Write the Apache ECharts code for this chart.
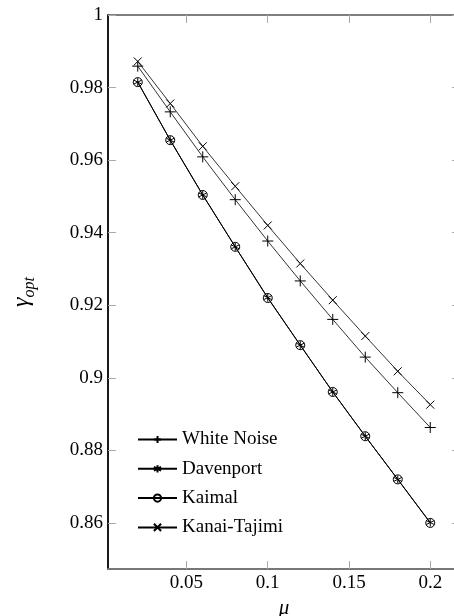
<!DOCTYPE html>
<html>
<head>
<meta charset="utf-8">
<script src="https://cdn.jsdelivr.net/npm/echarts@6/dist/echarts.min.js"></script>
<style>html,body{margin:0;padding:0;background:#fff}#c{width:454px;height:616px}</style>
</head>
<body>
<div id="c"></div>
<script>
const mu = [0.02, 0.04, 0.06, 0.08, 0.10, 0.12, 0.14, 0.16, 0.18, 0.20];
const whiteNoise = [0.9859, 0.9733, 0.9609, 0.9491, 0.9377, 0.9267, 0.9161, 0.9057, 0.8959, 0.8863];
const davenport = [0.9815, 0.9655, 0.9504, 0.9361, 0.9221, 0.9090, 0.8961, 0.8839, 0.8720, 0.8601];
const kaimal = [0.9815, 0.9655, 0.9504, 0.9361, 0.9220, 0.9090, 0.8961, 0.8839, 0.8720, 0.8600];
const kanaiTajimi = [0.9872, 0.9756, 0.9638, 0.9528, 0.9420, 0.9315, 0.9214, 0.9115, 0.9018, 0.8926];
const xTicks = [0.05, 0.1, 0.15, 0.2];
const yTicks = [0.86, 0.88, 0.90, 0.92, 0.94, 0.96, 0.98, 1.0];
const seriesNames = ['White Noise', 'Davenport', 'Kaimal', 'Kanai-Tajimi'];

const FONT = '"Liberation Serif", "DejaVu Serif", serif';
const pair = (ys) => mu.map((x, i) => [x, ys[i]]);
const fmt = (v) => String(+(+v).toFixed(2));

const SYM_PLUS = 'path://M5,0L5,10M0,5L10,5';
const SYM_TIMES = 'path://M0,0L10,10M10,0L0,10';
const SYM_STAR = 'path://M5,0L5,10M0.67,2.5L9.33,7.5M0.67,7.5L9.33,2.5';

function mk(name, data, symbol, size, lw) {
  return {
    name, type: 'line', data: pair(data), symbol, symbolSize: size,
    showAllSymbol: true, animation: false,
    lineStyle: { color: '#000', width: lw },
    itemStyle: { color: symbol === 'circle' ? 'rgba(0,0,0,0)' : '#000', borderColor: '#000', borderWidth: 1 },
    emphasis: { disabled: true }
  };
}

const chart = echarts.init(document.getElementById('c'), null, { renderer: 'canvas' });
chart.setOption({
  animation: false,
  backgroundColor: '#fff',
  textStyle: { fontFamily: FONT },
  grid: { left: 108, right: -6, top: 15, bottom: 47, show: true, borderColor: '#000', borderWidth: 1.2, backgroundColor: 'transparent', outerBoundsMode: 'none', containLabel: false },
  legend: {
    orient: 'vertical', left: 137, top: 430, padding: 0, itemWidth: 39, itemHeight: 9, itemGap: 10.3,
    data: seriesNames,
    textStyle: { fontFamily: FONT, fontSize: 19, color: '#000' },
    inactiveColor: '#000'
  },
  xAxis: [{
    type: 'value', min: 0.0017, max: 0.2183,
    name: 'μ', nameLocation: 'middle', nameGap: 26,
    nameTextStyle: { fontFamily: FONT, fontStyle: 'italic', fontSize: 21, color: '#000' },
    axisLine: { show: true, lineStyle: { color: '#777', width: 2 } },
    axisTick: { show: true, inside: true, length: 8, customValues: xTicks, lineStyle: { color: '#aaa', width: 1 } },
    axisLabel: { customValues: xTicks, formatter: fmt, fontFamily: FONT, fontSize: 19, color: '#000', margin: 5 },
    splitLine: { show: false }
  }, {
    type: 'value', position: 'top', min: 0.0017, max: 0.2183,
    axisLine: { show: false },
    axisTick: { show: true, inside: true, length: 8, customValues: xTicks, lineStyle: { color: '#aaa', width: 1 } },
    axisLabel: { show: false }, splitLine: { show: false }
  }],
  yAxis: [{
    type: 'value', min: 0.8473, max: 1.0,
    name: '{g|γ}{s|opt}', nameLocation: 'middle', nameGap: 74, nameRotate: 90,
    nameTextStyle: {
      color: '#000',
      rich: {
        g: { fontFamily: FONT, fontStyle: 'italic', fontSize: 24, color: '#000', verticalAlign: 'bottom' },
        s: { fontFamily: FONT, fontStyle: 'italic', fontSize: 16, color: '#000', verticalAlign: 'bottom', padding: [0, 0, -4, 0] }
      }
    },
    axisLine: { show: true, lineStyle: { color: '#000', width: 1.5 } },
    axisTick: { show: true, inside: true, length: 8, customValues: yTicks, lineStyle: { color: '#aaa', width: 1 } },
    axisLabel: { customValues: yTicks, formatter: fmt, fontFamily: FONT, fontSize: 19, color: '#000', margin: 5 },
    splitLine: { show: false }
  }, {
    type: 'value', position: 'right', min: 0.8473, max: 1.0,
    axisLine: { show: false },
    axisTick: { show: true, inside: true, length: 8, customValues: yTicks, lineStyle: { color: '#aaa', width: 1 } },
    axisLabel: { show: false }, splitLine: { show: false }
  }],
  series: [
    mk('White Noise', whiteNoise, SYM_PLUS, 11, 0.8),
    mk('Davenport', davenport, SYM_STAR, 8, 1),
    mk('Kaimal', kaimal, 'circle', 9, 1),
    mk('Kanai-Tajimi', kanaiTajimi, SYM_TIMES, 8, 0.8)
  ]
});
</script>
</body>
</html>
